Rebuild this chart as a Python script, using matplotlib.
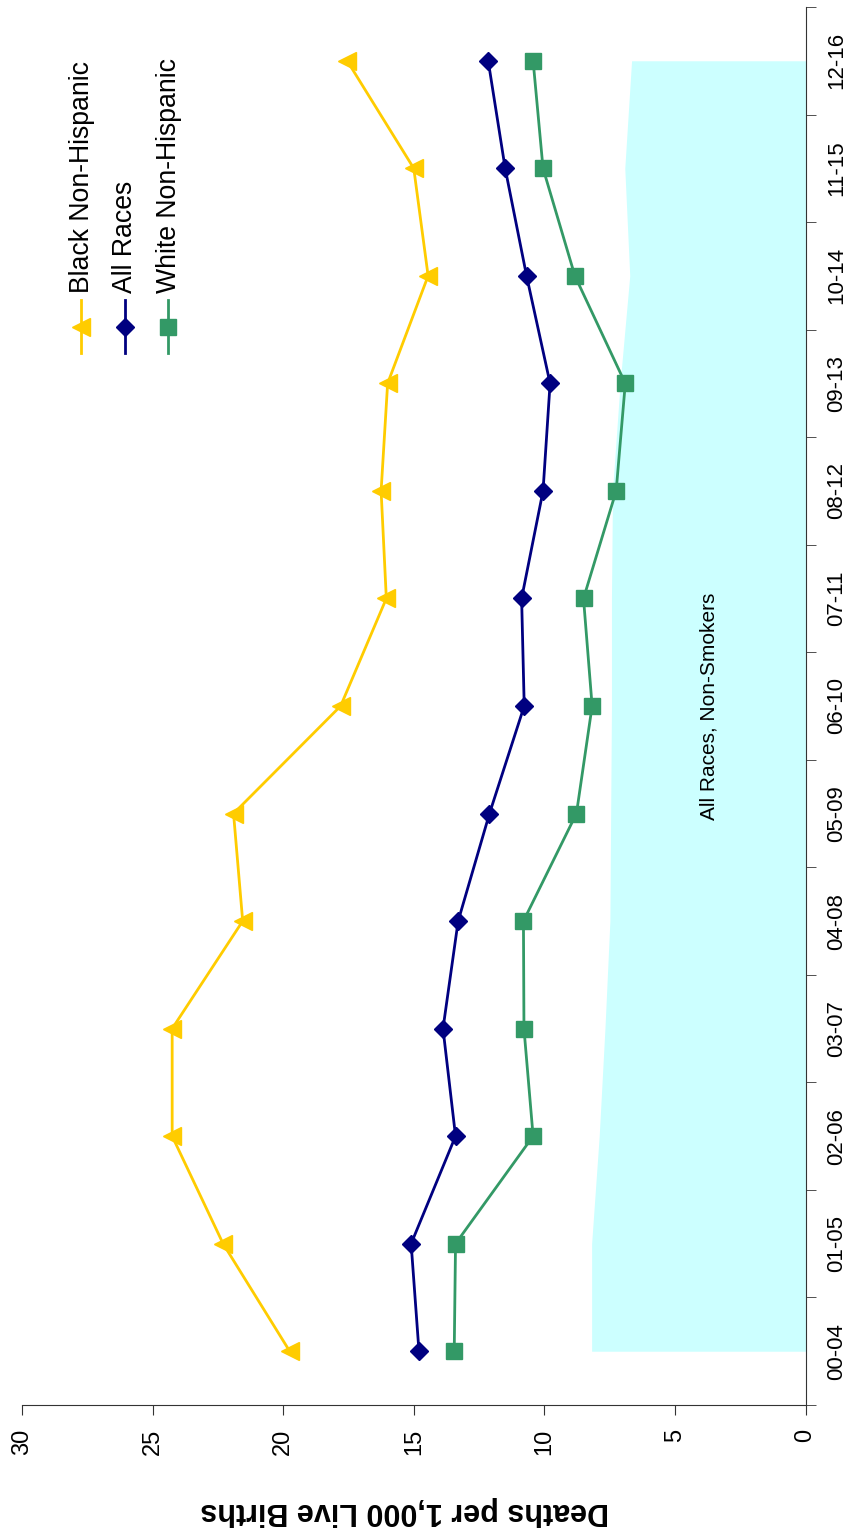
import numpy as np
import matplotlib
matplotlib.use("Agg")
import matplotlib.pyplot as plt

plt.rcParams['font.family'] = ['Liberation Sans', 'DejaVu Sans']

periods = ['00-04', '01-05', '02-06', '03-07', '04-08', '05-09', '06-10',
           '07-11', '08-12', '09-13', '10-14', '11-15', '12-16']
black_nh = [19.75, 22.3, 24.25, 24.25, 21.55, 21.9, 17.8, 16.05, 16.25, 16.0, 14.45, 15.0, 17.55]
all_races = [14.8, 15.1, 13.4, 13.88, 13.3, 12.1, 10.77, 10.87, 10.05, 9.78, 10.68, 11.5, 12.15]
white_nh = [13.45, 13.4, 10.43, 10.78, 10.8, 8.77, 8.17, 8.5, 7.25, 6.9, 8.83, 10.05, 10.43]
non_smokers = [8.19, 8.19, 7.9, 7.68, 7.49, 7.46, 7.43, 7.43, 7.39, 7.1, 6.73, 6.92, 6.66]

C_BLACK = '#FFCC00'
C_ALL = '#000080'
C_WHITE = '#339966'
C_FILL = '#CCFFFF'

fig = plt.figure(figsize=(8.48, 15.31), dpi=100)
ax = fig.add_axes([22 / 848, 1 - 1405 / 1531, (805.5 - 22) / 848, (1405 - 7) / 1531])

pos = np.arange(len(periods))

# chart is drawn turned a quarter turn: values run right-to-left, periods bottom-to-top
ax.fill_betweenx(pos, 0, non_smokers, color=C_FILL, lw=0, zorder=1)
ax.text(3.7, 6, 'All Races, Non-Smokers', rotation=90, ha='center', va='center',
        fontsize=15, zorder=2)

ax.plot(black_nh, pos, color=C_BLACK, lw=2, marker='<', ms=13.5, zorder=3)
ax.plot(all_races, pos, color=C_ALL, lw=2, marker='D', ms=9, zorder=3)
ax.plot(white_nh, pos, color=C_WHITE, lw=2, marker='s', ms=11.5, zorder=3)

ax.set_xlim(30, 0)
ax.set_ylim(-0.5, len(periods) - 0.5)

for s in ['left', 'top']:
    ax.spines[s].set_visible(False)
ax.spines['bottom'].set_color('#333333')
ax.spines['right'].set_color('#333333')

ax.set_xticks(np.arange(0, 31, 5))
ax.set_xticklabels([str(v) for v in range(0, 31, 5)], rotation=90, fontsize=17)
ax.tick_params(axis='x', direction='out', length=7, pad=10, color='#333333')

ax.yaxis.tick_right()
ax.set_yticks(pos)
ax.set_yticklabels(periods, rotation=90, fontsize=16, va='center')
ax.set_yticks(np.arange(-0.5, len(periods), 1), minor=True)
ax.tick_params(axis='y', which='major', length=0, pad=15)
ax.tick_params(axis='y', which='minor', length=7, direction='out', color='#333333')

ax.set_xlabel('Deaths per 1,000 Live Births', rotation=180, fontsize=22,
              fontweight='bold', va='center', ha='center')
ax.xaxis.set_label_coords((405 - 22) / 783.5, -(1511 - 1405) / 1398)

# legend, drawn by hand so that it turns with the chart
leg = [('Black Non-Hispanic', C_BLACK, '<', 13.5),
       ('All Races', C_ALL, 'D', 9.5),
       ('White Non-Hispanic', C_WHITE, 's', 12)]
for i, (name, col, mk, ms) in enumerate(leg):
    x = (81 + 43.5 * i) / 848
    fig.add_artist(plt.Line2D([x, x], [1 - 353 / 1531, 1 - 300 / 1531],
                              color=col, lw=2, transform=fig.transFigure))
    fig.add_artist(plt.Line2D([x], [1 - 327 / 1531], color=col, marker=mk, ms=ms,
                              transform=fig.transFigure))
    fig.text(x + 1 / 848, 1 - 293 / 1531, name, rotation=90, ha='center', va='bottom',
             fontsize=19.2)

fig.savefig('out.png', dpi=100)
